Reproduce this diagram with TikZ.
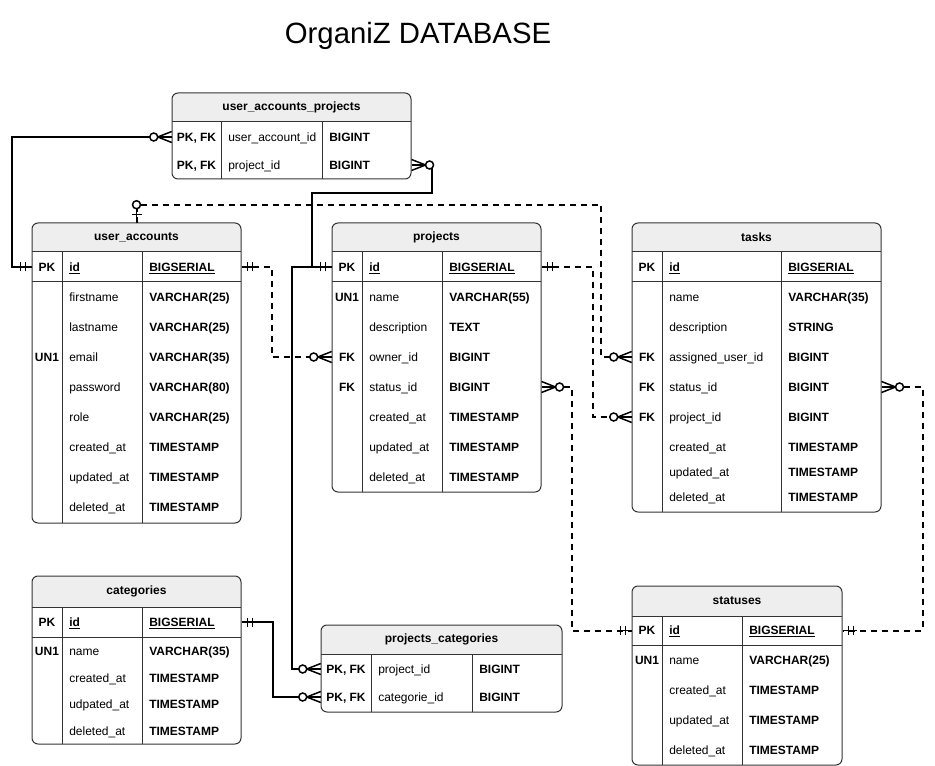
\documentclass[tikz,border=0pt]{standalone}
\usepackage{fontspec}
\setmainfont{Liberation Sans}
\newlength{\du}
\setlength{\du}{0.75pt}
\newcommand{\erfont}{\fontsize{9}{11}\selectfont}
\definecolor{hdrgray}{rgb}{0.933333, 0.933333, 0.933333}
\definecolor{tblline}{rgb}{0.200000, 0.200000, 0.200000}
\tikzset{
  tbl/.style={draw=tblline, line width=1\du, rounded corners=6\du},
  hdr/.style={font=\erfont\bfseries, inner sep=0pt, minimum width=#1, minimum height=29\du},
  keycell/.style={font=\erfont\bfseries, inner sep=0pt, minimum width=#1, text height=1.6ex, text depth=.4ex},
  fld/.style={font=\erfont, anchor=west, inner xsep=7\du, inner ysep=0pt, text height=1.6ex, text depth=.4ex},
  typ/.style={fld, font=\erfont\bfseries, text width=#1, align=left},
  rel/.style={draw=black, line width=2\du},
  reldash/.style={rel, dash pattern=on 6\du off 5\du},
  mk/.style={draw=black, line width=1.5\du, solid},
  zmany/.pic={
    \draw[mk] (0,0) -- (-14\du,0);
    \draw[mk] (0,-5.5\du) -- (-14\du,0) -- (0,5.5\du);
    \draw[mk, fill=white] (-18\du,0) circle (4\du);
  },
  mone/.pic={
    \draw[mk] (0,0) -- (-14\du,0);
    \draw[mk] (-6\du,-4.5\du) -- (-6\du,4.5\du) (-11\du,-4.5\du) -- (-11\du,4.5\du);
  },
  zone/.pic={
    \draw[mk] (0,0) -- (-14\du,0);
    \draw[mk] (-8\du,-5\du) -- (-8\du,5\du);
    \draw[mk, fill=white] (-18\du,0) circle (4\du);
  }
}
\begin{document}
\begin{tikzpicture}
\pgftransformxscale{1.000000}
\pgftransformyscale{-1.000000}
\useasboundingbox (0\du,0\du) rectangle (935\du,766\du);
\node[font=\fontsize{22}{26}\selectfont] (title) at (418\du,36\du) {OrganiZ DATABASE};
% user_accounts_projects
\fill[hdrgray, rounded corners=6\du] (172\du,93\du) rectangle (411\du,122\du);
\fill[hdrgray] (172\du,105\du) rectangle (411\du,122\du);
\draw[tbl] (172\du,93\du) rectangle (411\du,179\du);
\draw[tbl] (172\du,122\du) -- (411\du,122\du) (221\du,122\du) -- (221\du,179\du) (322\du,122\du) -- (322\du,179\du);
\node[hdr=239\du] (uap) at (291.5\du,107.5\du) {user\_accounts\_projects};
\node[keycell=49\du] (uap-ua) at (196.5\du,137\du) {PK, FK};
\node[fld] (uap-ua-n) at (221\du,137\du) {user\_account\_id};
\node[typ=75\du] (uap-ua-t) at (322\du,137\du) {BIGINT};
\node[keycell=49\du] (uap-pr) at (196.5\du,165\du) {PK, FK};
\node[fld] (uap-pr-n) at (221\du,165\du) {project\_id};
\node[typ=75\du] (uap-pr-t) at (322\du,165\du) {BIGINT};
% user_accounts
\fill[hdrgray, rounded corners=6\du] (32\du,223\du) rectangle (241\du,252\du);
\fill[hdrgray] (32\du,235\du) rectangle (241\du,252\du);
\draw[tbl] (32\du,223\du) rectangle (241\du,523\du);
\draw[tbl] (32\du,252\du) -- (241\du,252\du) (32\du,282\du) -- (241\du,282\du) (62\du,252\du) -- (62\du,523\du) (142\du,252\du) -- (142\du,523\du);
\node[hdr=209\du] (ua) at (136.5\du,237.5\du) {user\_accounts};
\node[keycell=30\du] (ua-id) at (47\du,267\du) {PK};
\node[fld] (ua-id-n) at (62\du,267\du) {\underline{\textbf{id}}};
\node[typ=85\du] (ua-id-t) at (142\du,267\du) {\underline{BIGSERIAL}};
\node[fld] (ua-fn-n) at (62\du,297\du) {firstname};
\node[typ=85\du] (ua-fn-t) at (142\du,297\du) {VARCHAR(25)};
\node[fld] (ua-ln-n) at (62\du,327\du) {lastname};
\node[typ=85\du] (ua-ln-t) at (142\du,327\du) {VARCHAR(25)};
\node[keycell=30\du] (ua-em) at (47\du,357\du) {UN1};
\node[fld] (ua-em-n) at (62\du,357\du) {email};
\node[typ=85\du] (ua-em-t) at (142\du,357\du) {VARCHAR(35)};
\node[fld] (ua-pw-n) at (62\du,387\du) {password};
\node[typ=85\du] (ua-pw-t) at (142\du,387\du) {VARCHAR(80)};
\node[fld] (ua-ro-n) at (62\du,417\du) {role};
\node[typ=85\du] (ua-ro-t) at (142\du,417\du) {VARCHAR(25)};
\node[fld] (ua-cr-n) at (62\du,447\du) {created\_at};
\node[typ=85\du] (ua-cr-t) at (142\du,447\du) {TIMESTAMP};
\node[fld] (ua-up-n) at (62\du,477\du) {updated\_at};
\node[typ=85\du] (ua-up-t) at (142\du,477\du) {TIMESTAMP};
\node[fld] (ua-de-n) at (62\du,507\du) {deleted\_at};
\node[typ=85\du] (ua-de-t) at (142\du,507\du) {TIMESTAMP};
% projects
\fill[hdrgray, rounded corners=6\du] (332\du,223\du) rectangle (541\du,252\du);
\fill[hdrgray] (332\du,235\du) rectangle (541\du,252\du);
\draw[tbl] (332\du,223\du) rectangle (541\du,492\du);
\draw[tbl] (332\du,252\du) -- (541\du,252\du) (332\du,282\du) -- (541\du,282\du) (362\du,252\du) -- (362\du,492\du) (442\du,252\du) -- (442\du,492\du);
\node[hdr=209\du] (pr) at (436.5\du,237.5\du) {projects};
\node[keycell=30\du] (pr-id) at (347\du,267\du) {PK};
\node[fld] (pr-id-n) at (362\du,267\du) {\underline{\textbf{id}}};
\node[typ=85\du] (pr-id-t) at (442\du,267\du) {\underline{BIGSERIAL}};
\node[keycell=30\du] (pr-nm) at (347\du,297\du) {UN1};
\node[fld] (pr-nm-n) at (362\du,297\du) {name};
\node[typ=85\du] (pr-nm-t) at (442\du,297\du) {VARCHAR(55)};
\node[fld] (pr-ds-n) at (362\du,327\du) {description};
\node[typ=85\du] (pr-ds-t) at (442\du,327\du) {TEXT};
\node[keycell=30\du] (pr-own) at (347\du,357\du) {FK};
\node[fld] (pr-own-n) at (362\du,357\du) {owner\_id};
\node[typ=85\du] (pr-own-t) at (442\du,357\du) {BIGINT};
\node[keycell=30\du] (pr-st) at (347\du,387\du) {FK};
\node[fld] (pr-st-n) at (362\du,387\du) {status\_id};
\node[typ=85\du] (pr-st-t) at (442\du,387\du) {BIGINT};
\node[fld] (pr-cr-n) at (362\du,417\du) {created\_at};
\node[typ=85\du] (pr-cr-t) at (442\du,417\du) {TIMESTAMP};
\node[fld] (pr-up-n) at (362\du,447\du) {updated\_at};
\node[typ=85\du] (pr-up-t) at (442\du,447\du) {TIMESTAMP};
\node[fld] (pr-de-n) at (362\du,477\du) {deleted\_at};
\node[typ=85\du] (pr-de-t) at (442\du,477\du) {TIMESTAMP};
% tasks
\fill[hdrgray, rounded corners=6\du] (632\du,223\du) rectangle (881\du,252\du);
\fill[hdrgray] (632\du,235\du) rectangle (881\du,252\du);
\draw[tbl] (632\du,223\du) rectangle (881\du,512\du);
\draw[tbl] (632\du,252\du) -- (881\du,252\du) (632\du,282\du) -- (881\du,282\du) (662\du,252\du) -- (662\du,512\du) (781\du,252\du) -- (781\du,512\du);
\node[hdr=249\du] (ts) at (756.5\du,237.5\du) {tasks};
\node[keycell=30\du] (ts-id) at (647\du,267\du) {PK};
\node[fld] (ts-id-n) at (662\du,267\du) {\underline{\textbf{id}}};
\node[typ=86\du] (ts-id-t) at (781\du,267\du) {\underline{BIGSERIAL}};
\node[fld] (ts-nm-n) at (662\du,297\du) {name};
\node[typ=86\du] (ts-nm-t) at (781\du,297\du) {VARCHAR(35)};
\node[fld] (ts-ds-n) at (662\du,327\du) {description};
\node[typ=86\du] (ts-ds-t) at (781\du,327\du) {STRING};
\node[keycell=30\du] (ts-asg) at (647\du,357\du) {FK};
\node[fld] (ts-asg-n) at (662\du,357\du) {assigned\_user\_id};
\node[typ=86\du] (ts-asg-t) at (781\du,357\du) {BIGINT};
\node[keycell=30\du] (ts-st) at (647\du,387\du) {FK};
\node[fld] (ts-st-n) at (662\du,387\du) {status\_id};
\node[typ=86\du] (ts-st-t) at (781\du,387\du) {BIGINT};
\node[keycell=30\du] (ts-pr) at (647\du,417\du) {FK};
\node[fld] (ts-pr-n) at (662\du,417\du) {project\_id};
\node[typ=86\du] (ts-pr-t) at (781\du,417\du) {BIGINT};
\node[fld] (ts-cr-n) at (662\du,447\du) {created\_at};
\node[typ=86\du] (ts-cr-t) at (781\du,447\du) {TIMESTAMP};
\node[fld] (ts-up-n) at (662\du,472\du) {updated\_at};
\node[typ=86\du] (ts-up-t) at (781\du,472\du) {TIMESTAMP};
\node[fld] (ts-de-n) at (662\du,497\du) {deleted\_at};
\node[typ=86\du] (ts-de-t) at (781\du,497\du) {TIMESTAMP};
% categories
\fill[hdrgray, rounded corners=6\du] (32\du,576\du) rectangle (241\du,607\du);
\fill[hdrgray] (32\du,590\du) rectangle (241\du,607\du);
\draw[tbl] (32\du,576\du) rectangle (241\du,744\du);
\draw[tbl] (32\du,607\du) -- (241\du,607\du) (32\du,637\du) -- (241\du,637\du) (62\du,607\du) -- (62\du,744\du) (142\du,607\du) -- (142\du,744\du);
\node[hdr=209\du] (ca) at (136.5\du,591.5\du) {categories};
\node[keycell=30\du] (ca-id) at (47\du,622\du) {PK};
\node[fld] (ca-id-n) at (62\du,622\du) {\underline{\textbf{id}}};
\node[typ=85\du] (ca-id-t) at (142\du,622\du) {\underline{BIGSERIAL}};
\node[keycell=30\du] (ca-nm) at (47\du,651\du) {UN1};
\node[fld] (ca-nm-n) at (62\du,651\du) {name};
\node[typ=85\du] (ca-nm-t) at (142\du,651\du) {VARCHAR(35)};
\node[fld] (ca-cr-n) at (62\du,678\du) {created\_at};
\node[typ=85\du] (ca-cr-t) at (142\du,678\du) {TIMESTAMP};
\node[fld] (ca-up-n) at (62\du,704\du) {udpated\_at};
\node[typ=85\du] (ca-up-t) at (142\du,704\du) {TIMESTAMP};
\node[fld] (ca-de-n) at (62\du,731\du) {deleted\_at};
\node[typ=85\du] (ca-de-t) at (142\du,731\du) {TIMESTAMP};
% projects_categories
\fill[hdrgray, rounded corners=6\du] (321\du,625\du) rectangle (562\du,654\du);
\fill[hdrgray] (321\du,637\du) rectangle (562\du,654\du);
\draw[tbl] (321\du,625\du) rectangle (562\du,712\du);
\draw[tbl] (321\du,654\du) -- (562\du,654\du) (371\du,654\du) -- (371\du,712\du) (472\du,654\du) -- (472\du,712\du);
\node[hdr=241\du] (pc) at (441.5\du,639.5\du) {projects\_categories};
\node[keycell=50\du] (pc-pr) at (346\du,669\du) {PK, FK};
\node[fld] (pc-pr-n) at (371\du,669\du) {project\_id};
\node[typ=76\du] (pc-pr-t) at (472\du,669\du) {BIGINT};
\node[keycell=50\du] (pc-ca) at (346\du,697\du) {PK, FK};
\node[fld] (pc-ca-n) at (371\du,697\du) {categorie\_id};
\node[typ=76\du] (pc-ca-t) at (472\du,697\du) {BIGINT};
% statuses
\fill[hdrgray, rounded corners=6\du] (632\du,586\du) rectangle (842\du,616\du);
\fill[hdrgray] (632\du,598\du) rectangle (842\du,616\du);
\draw[tbl] (632\du,586\du) rectangle (842\du,765\du);
\draw[tbl] (632\du,616\du) -- (842\du,616\du) (632\du,645\du) -- (842\du,645\du) (662\du,616\du) -- (662\du,765\du) (742\du,616\du) -- (742\du,765\du);
\node[hdr=210\du] (st) at (737\du,601\du) {statuses};
\node[keycell=30\du] (st-id) at (647\du,630.5\du) {PK};
\node[fld] (st-id-n) at (662\du,630.5\du) {\underline{\textbf{id}}};
\node[typ=86\du] (st-id-t) at (742\du,630.5\du) {\underline{BIGSERIAL}};
\node[keycell=30\du] (st-nm) at (647\du,660\du) {UN1};
\node[fld] (st-nm-n) at (662\du,660\du) {name};
\node[typ=86\du] (st-nm-t) at (742\du,660\du) {VARCHAR(25)};
\node[fld] (st-cr-n) at (662\du,690\du) {created\_at};
\node[typ=86\du] (st-cr-t) at (742\du,690\du) {TIMESTAMP};
\node[fld] (st-up-n) at (662\du,720\du) {updated\_at};
\node[typ=86\du] (st-up-t) at (742\du,720\du) {TIMESTAMP};
\node[fld] (st-de-n) at (662\du,750\du) {deleted\_at};
\node[typ=86\du] (st-de-t) at (742\du,750\du) {TIMESTAMP};
% relations
\draw[rel] (ua-id.west) -- ++(-20\du,0) |- (uap-ua.west);
\draw[rel] (pr-id.west) -- ++(-20\du,0) -- ++(0,-74\du) -| ([xshift=20\du]uap-pr-t.east) -- (uap-pr-t.east);
\draw[rel] (pr-id.west) -- ++(-40\du,0) |- (pc-pr.west);
\draw[rel] (ca-id-t.east) -- ++(31\du,0) |- (pc-ca.west);
\draw[reldash] (ua-id-t.east) -- ++(30\du,0) |- (pr-own.west);
\draw[reldash] (ua.north) -- ++(0,-18\du) -| ([xshift=-31\du]ts-asg.west) -- (ts-asg.west);
\draw[reldash] (pr-id-t.east) -- ++(51\du,0) |- (ts-pr.west);
\draw[reldash] (pr-st-t.east) -- ++(30\du,0) |- (st-id.west);
\draw[reldash] (ts-st-t.east) -- ++(41\du,0) |- (st-id-t.east);
% ends
\pic at (ua-id.west) {mone};
\pic at (uap-ua.west) {zmany};
\pic at (pr-id.west) {mone};
\pic[rotate=180] at (uap-pr-t.east) {zmany};
\pic at (pc-pr.west) {zmany};
\pic[rotate=180] at (ca-id-t.east) {mone};
\pic at (pc-ca.west) {zmany};
\pic[rotate=180] at (ua-id-t.east) {mone};
\pic at (pr-own.west) {zmany};
\pic[rotate=-90] at (ua.north) {zone};
\pic at (ts-asg.west) {zmany};
\pic[rotate=180] at (pr-id-t.east) {mone};
\pic at (ts-pr.west) {zmany};
\pic[rotate=180] at (pr-st-t.east) {zmany};
\pic at (st-id.west) {mone};
\pic[rotate=180] at (ts-st-t.east) {zmany};
\pic[rotate=180] at (st-id-t.east) {mone};
\end{tikzpicture}
\end{document}
